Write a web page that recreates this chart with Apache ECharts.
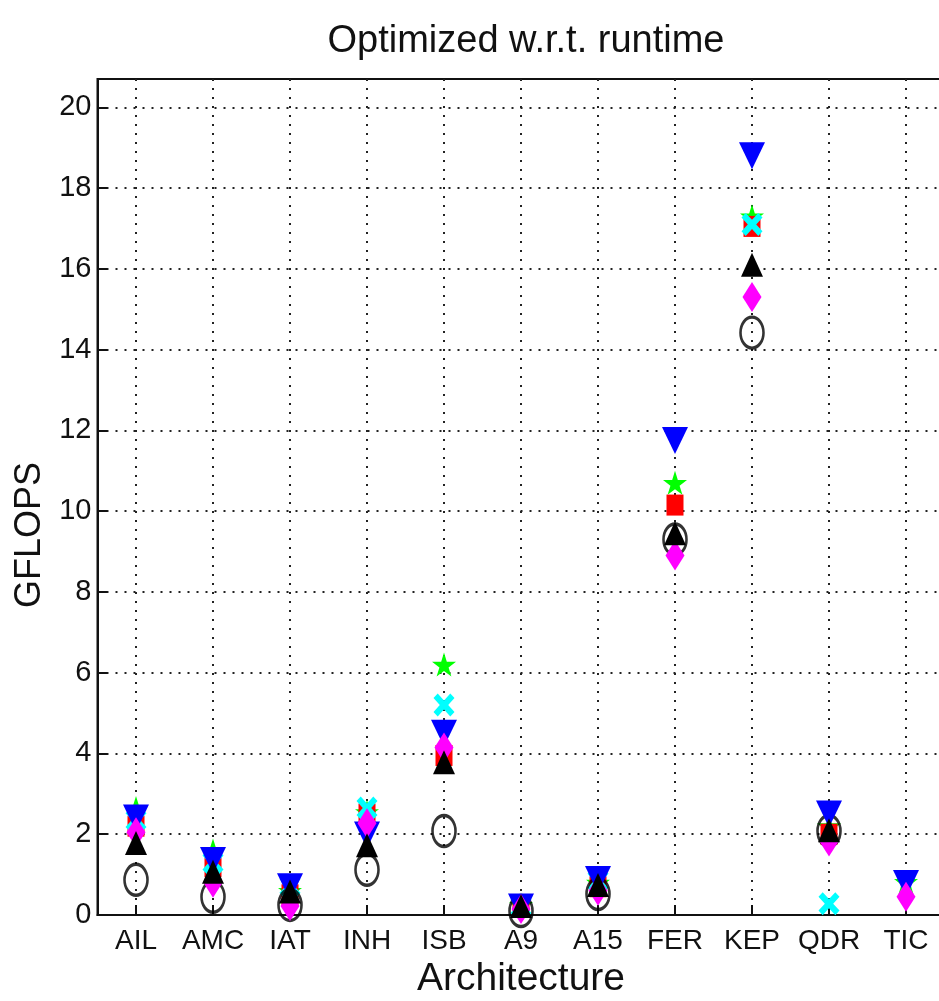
<!DOCTYPE html>
<html>
<head>
<meta charset="utf-8">
<script src="https://cdn.jsdelivr.net/npm/echarts@6/dist/echarts.min.js"></script>
<style>
  html, body { margin: 0; padding: 0; background: #fff; }
  #chart { width: 939px; height: 1001px; }
</style>
</head>
<body>
<div id="chart"></div>
<script>
// categories
const architectures = ["AIL", "AMC", "IAT", "INH", "ISB", "A9", "A15", "FER", "KEP", "QDR", "TIC"];

// GFLOPS per marker, null where no marker shows
const starGreen   = [2.65, 1.6, 0.6, 2.55, 6.2, 0.25, 0.8, 10.7, 17.3, 2.2, 0.82];
const squareRed   = [2.2, 1.2, 0.5, 2.5, 3.95, 0.2, 0.7, 10.15, 17.05, 2.0, null];
const crossCyan   = [2.35, 1.3, 0.72, 2.65, 5.2, 0.22, 0.85, null, 17.1, 0.28, null];
const circleBlack = [0.87, 0.45, 0.25, 1.12, 2.08, 0.1, 0.52, 9.3, 14.42, 2.08, null];
const triDownBlue = [2.4, 1.35, 0.7, 1.98, 4.5, 0.2, 0.88, 11.75, 18.8, 2.5, 0.78];
const diamondMag  = [2.05, 0.8, 0.22, 2.27, 4.15, 0.15, 0.6, 8.9, 15.3, 1.82, 0.45];
const triUpBlack  = [1.78, 1.07, 0.58, 1.73, 3.78, 0.22, 0.74, 9.45, 16.1, 2.1, null];

const font = '"Liberation Sans Narrow", "Liberation Sans", Arial, sans-serif';

const starPath = "path://M50,0L61.2,34.5L97.6,34.5L68.2,55.9L79.4,90.5L50,69.1L20.6,90.5L31.8,55.9L2.4,34.5L38.8,34.5Z";
const crossPath = "path://M0,2L2,0L5,3L8,0L10,2L7,5L10,8L8,10L5,7L2,10L0,8L3,5Z";

const chart = echarts.init(document.getElementById("chart"));

function scatter(data, symbol, size, color, extra) {
    return Object.assign({
        type: "scatter",
        data: data,
        symbol: symbol,
        symbolSize: size,
        itemStyle: { color: color, opacity: 1 },
        animation: false,
    }, extra || {});
}

chart.setOption({
    backgroundColor: "#fff",
    title: {
        text: "Optimized w.r.t. runtime",
        left: 521,
        top: 18,
        textAlign: "center",
        textStyle: { fontFamily: font, fontSize: 38, fontWeight: "normal", color: "#111" },
    },
    grid: {
        left: 97.5,
        right: -5.5,
        top: 79,
        bottom: 86,
        show: true,
        borderColor: "#111",
        borderWidth: 2,
        containLabel: false,
        outerBoundsMode: "none",
    },
    xAxis: {
        type: "category",
        data: architectures,
        name: "Architecture",
        nameLocation: "middle",
        nameGap: 40,
        nameTextStyle: { fontFamily: font, fontSize: 39, color: "#111" },
        axisLine: { show: true, lineStyle: { color: "#111", width: 2 } },
        axisTick: { show: true, inside: true, alignWithLabel: true, length: 10, lineStyle: { color: "#111", width: 2 } },
        axisLabel: { fontFamily: font, fontSize: 28, color: "#111", margin: 12, interval: 0 },
        splitLine: { show: true, alignWithLabel: true, lineStyle: { color: "#222", width: 2, type: [2, 7] } },
    },
    yAxis: {
        type: "value",
        min: 0,
        max: 20.7,
        interval: 2,
        name: "GFLOPS",
        nameLocation: "middle",
        nameGap: 47,
        nameTextStyle: { fontFamily: font, fontSize: 36, color: "#111", padding: [0, 76, 0, 0] },
        axisLine: { show: true, lineStyle: { color: "#111", width: 2 } },
        axisTick: { show: true, inside: true, length: 10, lineStyle: { color: "#111", width: 2 } },
        axisLabel: { fontFamily: font, fontSize: 29, color: "#111", margin: 6, showMaxLabel: false },
        splitLine: { show: true, showMaxLine: false, lineStyle: { color: "#222", width: 2, type: [2, 7] } },
    },
    series: [
        scatter(starGreen, starPath, [24, 24], "#00ff00"),
        scatter(squareRed, "rect", [17, 21], "#ff0000"),
        scatter(crossCyan, crossPath, [21, 23], "#00ffff"),
        scatter(circleBlack, "circle", [23, 31], "transparent", {
            itemStyle: { color: "rgba(0,0,0,0)", borderColor: "#000", borderWidth: 3 },
        }),
        scatter(triDownBlue, "triangle", [26, 27], "#0000ff", { symbolRotate: 180 }),
        scatter(diamondMag, "diamond", [19, 30], "#ff00ff"),
        scatter(triUpBlack, "triangle", [22, 24], "#000000"),
    ],
});
</script>
</body>
</html>
